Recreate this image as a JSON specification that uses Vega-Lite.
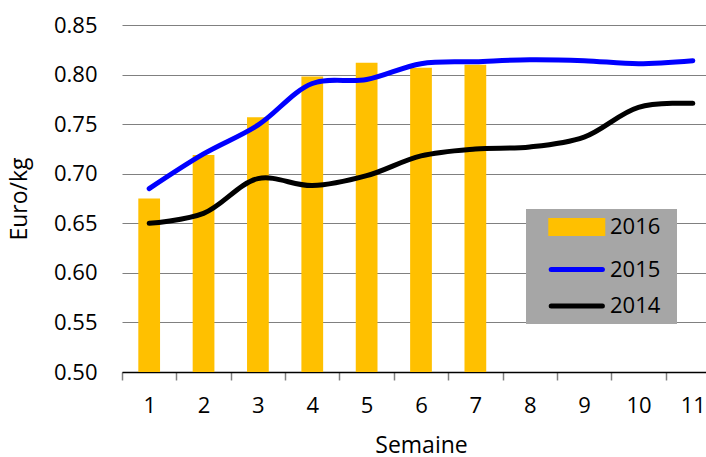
{
  "$schema": "https://vega.github.io/schema/vega-lite/v6.json",
  "width": 584,
  "height": 347,
  "autosize": {"type": "none"},
  "padding": {"left": 122, "top": 25, "right": 0, "bottom": 85},
  "config": {
    "font": "Open Sans",
    "view": {"stroke": null},
    "axis": {"labelFont": "Open Sans", "titleFont": "Open Sans", "labelColor": "#000000", "titleColor": "#000000", "titleFontWeight": "normal"}
  },
  "data": {
    "values": [
      {"semaine": 1, "annee": "2016", "valeur": 0.675},
      {"semaine": 2, "annee": "2016", "valeur": 0.719},
      {"semaine": 3, "annee": "2016", "valeur": 0.757},
      {"semaine": 4, "annee": "2016", "valeur": 0.798},
      {"semaine": 5, "annee": "2016", "valeur": 0.812},
      {"semaine": 6, "annee": "2016", "valeur": 0.807},
      {"semaine": 7, "annee": "2016", "valeur": 0.810},
      {"semaine": 1, "annee": "2015", "valeur": 0.685},
      {"semaine": 2, "annee": "2015", "valeur": 0.720},
      {"semaine": 3, "annee": "2015", "valeur": 0.749},
      {"semaine": 4, "annee": "2015", "valeur": 0.791},
      {"semaine": 5, "annee": "2015", "valeur": 0.795},
      {"semaine": 6, "annee": "2015", "valeur": 0.811},
      {"semaine": 7, "annee": "2015", "valeur": 0.813},
      {"semaine": 8, "annee": "2015", "valeur": 0.815},
      {"semaine": 9, "annee": "2015", "valeur": 0.814},
      {"semaine": 10, "annee": "2015", "valeur": 0.811},
      {"semaine": 11, "annee": "2015", "valeur": 0.814},
      {"semaine": 1, "annee": "2014", "valeur": 0.650},
      {"semaine": 2, "annee": "2014", "valeur": 0.660},
      {"semaine": 3, "annee": "2014", "valeur": 0.695},
      {"semaine": 4, "annee": "2014", "valeur": 0.688},
      {"semaine": 5, "annee": "2014", "valeur": 0.698},
      {"semaine": 6, "annee": "2014", "valeur": 0.718},
      {"semaine": 7, "annee": "2014", "valeur": 0.725},
      {"semaine": 8, "annee": "2014", "valeur": 0.727},
      {"semaine": 9, "annee": "2014", "valeur": 0.737},
      {"semaine": 10, "annee": "2014", "valeur": 0.767},
      {"semaine": 11, "annee": "2014", "valeur": 0.771}
    ]
  },
  "encoding": {
    "x": {
      "field": "semaine",
      "type": "ordinal",
      "scale": {"range": [0, 598], "paddingInner": 0, "paddingOuter": 0},
      "axis": {
        "title": "Semaine",
        "titleFontSize": 23,
        "titlePadding": 18,
        "labelAngle": 0,
        "labelFontSize": 22,
        "labelPadding": 15,
        "tickBand": "extent",
        "tickSize": 8,
        "tickColor": "#808080",
        "tickWidth": 1.5,
        "domainColor": "#000000",
        "domainWidth": 1.5,
        "grid": false
      }
    },
    "y": {
      "field": "valeur",
      "type": "quantitative",
      "scale": {"domain": [0.5, 0.85], "nice": false, "zero": false},
      "axis": {
        "title": "Euro/kg",
        "titleFontSize": 23,
        "titlePadding": 22,
        "values": [0.5, 0.55, 0.6, 0.65, 0.7, 0.75, 0.8, 0.85],
        "format": ".2f",
        "labelFontSize": 22,
        "labelPadding": 25,
        "ticks": false,
        "domain": false,
        "grid": true,
        "gridColor": "#808080",
        "gridWidth": 1.2
      }
    },
    "color": {
      "field": "annee",
      "type": "nominal",
      "scale": {"domain": ["2016", "2015", "2014"], "range": ["#FFC000", "#0000FF", "#000000"]},
      "legend": {
        "orient": "none",
        "legendX": 404,
        "legendY": 184,
        "title": "\u00a0",
        "titleOrient": "right",
        "titlePadding": 10,
        "titleFontSize": 14,
        "fillColor": "#a6a6a6",
        "padding": 7,
        "labelFont": "Open Sans",
        "labelFontSize": 22,
        "labelColor": "#000000",
        "labelOffset": 55,
        "rowPadding": 14.5,
        "symbolSize": 256,
        "encode": {
          "symbols": {
            "update": {
              "shape": {"signal": "datum.value == '2016' ? 'M0.85,-0.8125H7.35V0.8125H0.85Z' : 'M0.9,0H7.3'"},
              "fill": {"signal": "datum.value == '2016' ? '#FFC000' : 'transparent'"},
              "stroke": {"signal": "datum.value == '2016' ? 'transparent' : (datum.value == '2015' ? '#0000FF' : '#000000')"},
              "strokeWidth": {"value": 5},
              "strokeCap": {"value": "round"},
              "opacity": {"value": 1}
            }
          }
        }
      }
    }
  },
  "layer": [
    {
      "transform": [{"filter": "datum.annee == '2016'"}],
      "mark": {"type": "bar", "width": {"band": 0.4}, "clip": true}
    },
    {
      "transform": [{"filter": "datum.annee != '2016'"}],
      "mark": {"type": "line", "interpolate": "catmull-rom", "strokeWidth": 5, "strokeCap": "round"}
    }
  ]
}
